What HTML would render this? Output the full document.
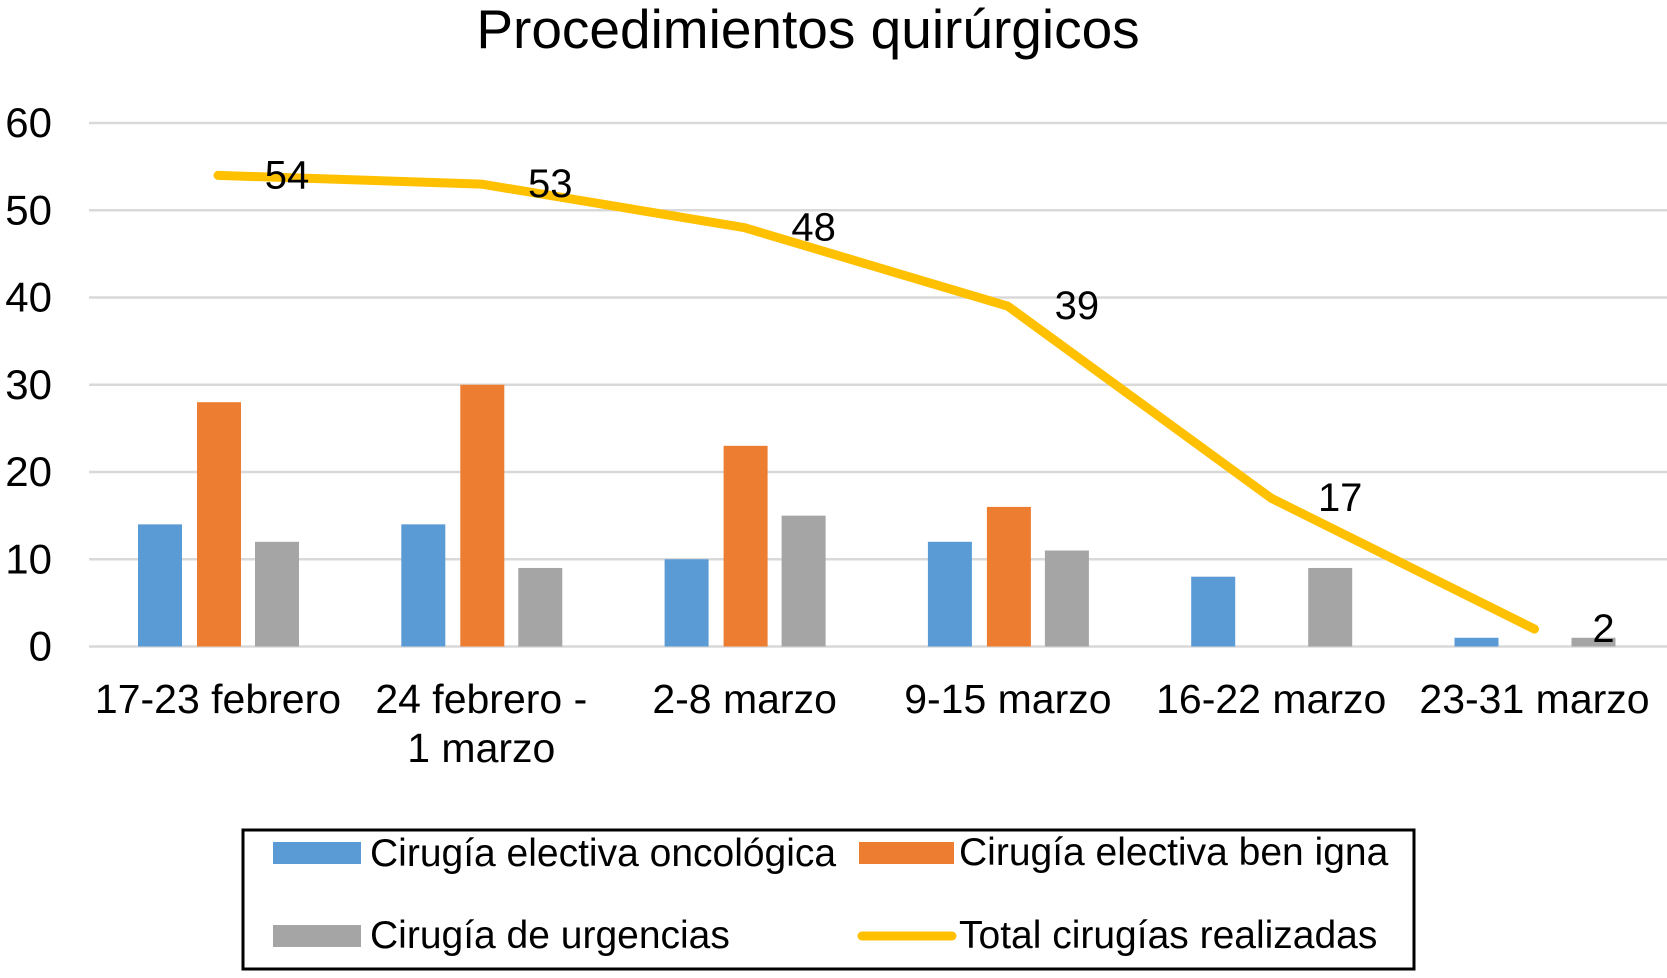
<!DOCTYPE html>
<html><head><meta charset="utf-8"><style>
body{margin:0;background:#fff;}
svg text{font-family:"Liberation Sans",Arial,sans-serif;fill:#000;}
</style></head><body>
<svg id="c" width="1667" height="973" xmlns="http://www.w3.org/2000/svg">
<text x="808" y="48" font-size="55" text-anchor="middle">Procedimientos quirúrgicos</text>
<g id="grid"></g><g id="bars"></g><g id="line"></g>
<g>
<rect x="243" y="830" width="1171" height="139" fill="none" stroke="#000" stroke-width="3"/>
<g><rect x="273" y="842" width="88" height="22" fill="#5B9BD5"/><text x="370" y="866" font-size="39">Cirugía electiva oncológica</text></g>
<g><rect x="859" y="842" width="95" height="22" fill="#ED7D31"/><text x="959" y="865" font-size="39">Cirugía electiva ben igna</text></g>
<g><rect x="273" y="925" width="88" height="22" fill="#A5A5A5"/><text x="370" y="948" font-size="39">Cirugía de urgencias</text></g>
<g><line x1="862" y1="936" x2="952" y2="936" stroke="#FFC000" stroke-width="9" stroke-linecap="round"/><text x="959" y="948" font-size="39">Total cirugías realizadas</text></g>
</g>
</svg>
<script>
const categories=[["17-23 febrero"],["24 febrero -","1 marzo"],["2-8 marzo"],["9-15 marzo"],["16-22 marzo"],["23-31 marzo"]];
const oncologica=[14,14,10,12,8,1];
const benigna=[28,30,23,16,0,0];
const urgencias=[12,9,15,11,9,1];
const total=[54,53,48,39,17,2];
const yTicks=[0,10,20,30,40,50,60];
const NS="http://www.w3.org/2000/svg";
const y=v=>646.5-v*8.725;
const x=i=>218+i*263.3;
function mk(t,a,p){const e=document.createElementNS(NS,t);for(const k in a)e.setAttribute(k,a[k]);p.appendChild(e);return e;}
const grid=document.getElementById('grid'),bars=document.getElementById('bars'),ln=document.getElementById('line');
yTicks.forEach(v=>{
 const l=mk('line',{x1:89,x2:1667,y1:y(v),y2:y(v),stroke:'#D9D9D9','stroke-width':2.5},grid);
 
 
 const t=mk('text',{x:52,y:y(v)+14,'font-size':42,'text-anchor':'end'},grid);t.textContent=v;
 
 
});
categories.forEach((c,i)=>{
 c.forEach((s,j)=>{const t=mk('text',{x:x(i),y:713+j*49,'font-size':41,'text-anchor':'middle'},grid);t.textContent=s;
 
 });
});
const series=[[oncologica,'#5B9BD5',-58,'bar-oncologica'],[benigna,'#ED7D31',1,'bar-benigna'],[urgencias,'#A5A5A5',59,'bar-urgencias']];
series.forEach(([d,col,off,nm])=>d.forEach((v,i)=>{
 if(v<=0)return;
 const r=mk('rect',{x:x(i)+off-22,y:y(v),width:44,height:y(0)-y(v),fill:col},bars);
 
 
}));
const p=mk('polyline',{points:total.map((v,i)=>x(i)+','+y(v)).join(' '),fill:'none',stroke:'#FFC000','stroke-width':9,'stroke-linejoin':'round','stroke-linecap':'round'},ln);


total.forEach((v,i)=>{const t=mk('text',{x:x(i)+69,y:y(v)+13,'font-size':40,'text-anchor':'middle'},ln);t.textContent=v;
 
 });
</script>
</body></html>
